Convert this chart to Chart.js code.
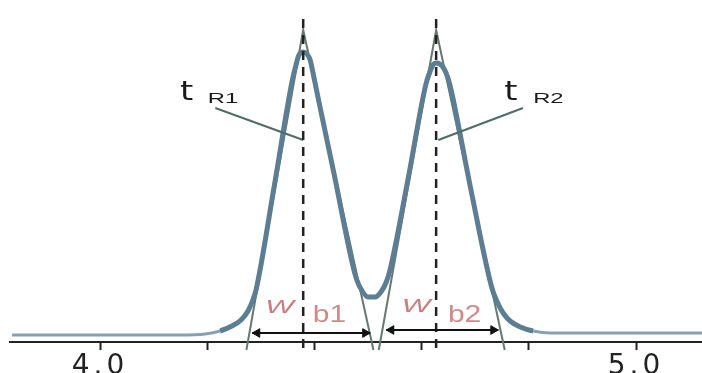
<!DOCTYPE html>
<html>
<head>
<meta charset="utf-8">
<script src="https://cdn.jsdelivr.net/npm/chart.js@4.4.0/dist/chart.umd.min.js"></script>
<style>
  html, body { margin: 0; padding: 0; background: #fff; overflow: hidden; }
  #chromChart { display: block; }
</style>
</head>
<body>
<canvas id="chromChart" width="702" height="373"></canvas>
<script>
// retention time (min) and detector signal
const rt = [3.836, 4.149, 4.196, 4.224, 4.246, 4.263, 4.276, 4.285, 4.291, 4.325,
            4.358, 4.366, 4.371, 4.379, 4.386, 4.392, 4.397, 4.403, 4.437, 4.470,
            4.479, 4.489, 4.500, 4.513, 4.524, 4.534, 4.541, 4.575, 4.608, 4.616,
            4.621, 4.627, 4.634, 4.642, 4.649, 4.655, 4.692, 4.731, 4.741, 4.752,
            4.765, 4.784, 4.808, 4.840, 5.123];
const signal = [7, 7, 8, 11, 16, 22, 31, 42, 52, 156,
                260, 278, 287, 290, 288, 282, 270, 254, 167, 80,
                62, 51, 45, 45, 50, 60, 72, 164, 258, 271,
                277, 279, 278, 273, 264, 252, 152, 54, 40, 29,
                21, 15, 11, 9, 9];

// retention times of the two peaks (dashed lines)
const peakRt = [4.379, 4.627];
const dashTop = 330, dashBottom = -6;

// tangent triangles: [left foot, apex, right foot]
const tangent1X = [4.273, 4.379, 4.510];
const tangent2X = [4.520, 4.627, 4.755];
const tangentY = [-8, 312, -8];

// base width arrows
const wbStart = [4.284, 4.534];
const wbEnd = [4.504, 4.743];
const wbLevel = [9, 12];

// leader lines from the tR labels to the dashed lines
const leaderFrom = [{ x: 4.215, y: 234 }, { x: 4.789, y: 234 }];
const leaderTo = [{ x: 4.379, y: 202 }, { x: 4.631, y: 202 }];

// x axis ticks
const tickValues = [4.0, 4.2, 4.4, 4.6, 4.8, 5.0];
const tickLabels = ['4.0', '', '', '', '', '5.0'];

const pts = (xs, ys) => xs.map((x, i) => ({ x: x, y: ys[i] }));
const ARROW_R = 5;

function arrowHeads(i) {
    // heads sit just inside each end, tip lands on the end
    const dx = ARROW_R / 536;
    return [{ x: wbStart[i] + dx, y: wbLevel[i] }, { x: wbEnd[i] - dx, y: wbLevel[i] }];
}

const lineBase = { showLine: true, pointRadius: 0, fill: false, clip: false, tension: 0 };

const datasets = [
    // arrows (on top)
    Object.assign({}, lineBase, { data: [{ x: wbStart[0], y: wbLevel[0] }, { x: wbEnd[0], y: wbLevel[0] }], borderColor: '#111', borderWidth: 2 }),
    Object.assign({}, lineBase, { data: [{ x: wbStart[1], y: wbLevel[1] }, { x: wbEnd[1], y: wbLevel[1] }], borderColor: '#111', borderWidth: 2 }),
    Object.assign({}, lineBase, { data: arrowHeads(0), showLine: false, pointStyle: 'triangle', pointRadius: ARROW_R, pointRotation: [-90, 90], pointBackgroundColor: '#111', pointBorderColor: '#111', pointBorderWidth: 1 }),
    Object.assign({}, lineBase, { data: arrowHeads(1), showLine: false, pointStyle: 'triangle', pointRadius: ARROW_R, pointRotation: [-90, 90], pointBackgroundColor: '#111', pointBorderColor: '#111', pointBorderWidth: 1 }),
    // dashed retention lines
    Object.assign({}, lineBase, { data: [{ x: peakRt[0], y: dashBottom }, { x: peakRt[0], y: dashTop }], borderColor: '#222', borderWidth: 2.5, borderDash: [9, 7] }),
    Object.assign({}, lineBase, { data: [{ x: peakRt[1], y: dashBottom }, { x: peakRt[1], y: dashTop }], borderColor: '#222', borderWidth: 2.5, borderDash: [9, 7] }),
    // leader lines
    Object.assign({}, lineBase, { data: [leaderFrom[0], leaderTo[0]], borderColor: '#4f6d66', borderWidth: 2 }),
    Object.assign({}, lineBase, { data: [leaderFrom[1], leaderTo[1]], borderColor: '#4f6d66', borderWidth: 2 }),
    // chromatogram
    {
        data: pts(rt, signal),
        showLine: true,
        borderColor: '#5d7d92',
        borderWidth: 5,
        pointRadius: 0,
        fill: false,
        cubicInterpolationMode: 'monotone',
        segment: {
            borderWidth: ctx => (ctx.p0.parsed.y < 12 && ctx.p1.parsed.y < 12) ? 3 : 5,
            borderColor: ctx => (ctx.p0.parsed.y < 12 && ctx.p1.parsed.y < 12) ? '#86a0b4' : '#5d7d92'
        }
    },
    // tangents (underneath)
    Object.assign({}, lineBase, { data: pts(tangent1X, tangentY), borderColor: '#65796f', borderWidth: 2 }),
    Object.assign({}, lineBase, { data: pts(tangent2X, tangentY), borderColor: '#65796f', borderWidth: 2 })
];

// text labels: anchor in data units, stretched horizontally like the scan
const notes = [
    { text: 't', x: 4.149, y: 242, size: 26, color: '#1a1a1a', sx: 1.3, family: '"DejaVu Sans"' },
    { text: 'R1', x: 4.201, y: 239, size: 14, color: '#1a1a1a', sx: 1.7 },
    { text: 't', x: 4.754, y: 242, size: 26, color: '#1a1a1a', sx: 1.3, family: '"DejaVu Sans"' },
    { text: 'R2', x: 4.808, y: 239, size: 14, color: '#1a1a1a', sx: 1.7 },
    { text: 'W', x: 4.308, y: 29, size: 19, color: '#c97d7d', sx: 1.6, italic: true },
    { text: 'b1', x: 4.397, y: 20, size: 24, color: '#cf8a8a', sx: 1.25 },
    { text: 'W', x: 4.563, y: 30, size: 19, color: '#c97d7d', sx: 1.6, italic: true },
    { text: 'b2', x: 4.649, y: 20, size: 24, color: '#cf8a8a', sx: 1.25 }
];

const spacingPlugin = {
    id: 'spacing',
    beforeDraw(chart) { chart.ctx.letterSpacing = '4px'; },
    afterDraw(chart) { chart.ctx.letterSpacing = '0px'; }
};

const notesPlugin = {
    id: 'notes',
    afterDatasetsDraw(chart) {
        const ctx = chart.ctx;
        const xs = chart.scales.x, ys = chart.scales.y;
        ctx.save();
        ctx.letterSpacing = '0px';
        ctx.textBaseline = 'alphabetic';
        ctx.textAlign = 'left';
        notes.forEach(n => {
            const px = xs.getPixelForValue(n.x);
            const py = ys.getPixelForValue(n.y);
            ctx.save();
            ctx.translate(px, py);
            ctx.scale(n.sx, 1);
            ctx.fillStyle = n.color;
            ctx.font = (n.italic ? 'italic ' : '') + n.size + 'px ' + (n.family || '"Liberation Sans", Arial, sans-serif');
            ctx.fillText(n.text, 0, 0);
            ctx.restore();
        });
        ctx.restore();
    }
};

new Chart(document.getElementById('chromChart'), {
    type: 'scatter',
    data: { datasets: datasets },
    options: {
        responsive: false,
        animation: false,
        devicePixelRatio: 1,
        layout: { autoPadding: false, padding: { left: 10, right: 0, top: 10, bottom: 0 } },
        plugins: { legend: { display: false }, tooltip: { enabled: false } },
        scales: {
            x: {
                type: 'linear',
                min: 3.832,
                max: 5.123,
                afterBuildTicks: scale => { scale.ticks = tickValues.map(v => ({ value: v })); },
                afterFit: scale => { scale.height = 31; },
                ticks: {
                    autoSkip: false,
                    maxRotation: 0,
                    padding: 0,
                    color: '#222',
                    font: { family: 'DejaVu Sans', size: 28 },
                    callback: (v, i) => tickLabels[i]
                },
                grid: { drawOnChartArea: false, tickLength: 8, tickColor: '#222', tickWidth: 2 },
                border: { display: true, color: '#222', width: 2 }
            },
            y: { display: false, min: 0, max: 332 }
        }
    },
    plugins: [spacingPlugin, notesPlugin]
});
</script>
</body>
</html>
